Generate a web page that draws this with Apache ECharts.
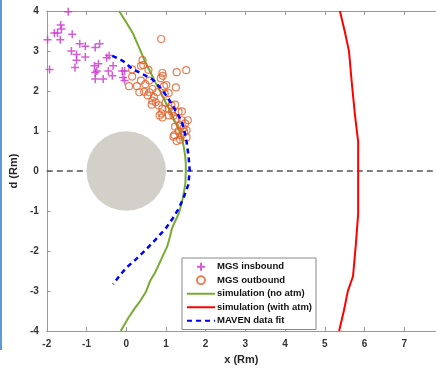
<!DOCTYPE html>
<html><head><meta charset="utf-8">
<script src="https://cdn.jsdelivr.net/npm/echarts@6/dist/echarts.min.js"></script>
<style>html,body{margin:0;padding:0;background:#fff}#c{width:436px;height:370px}</style>
</head><body><div id="c"></div>
<script>
const xTicks = [-2,-1,0,1,2,3,4,5,6,7];
const yTicks = [-4,-3,-2,-1,0,1,2,3,4];
const mgsInbound = [[-1.46,3.98],[-1.98,3.28],[-1.93,2.54],[-1.81,3.45],[-1.73,3.45],[-1.65,3.65],[-1.63,3.55],[-1.66,3.28],[-1.36,3.42],[-1.38,3.0],[-1.25,2.91],[-1.25,2.77],[-1.29,2.59],[-1.17,3.18],[-1.03,3.12],[-1.03,2.85],[-0.78,3.09],[-0.67,3.18],[-0.80,2.63],[-0.70,2.68],[-0.78,2.46],[-0.74,2.5],[-0.78,2.30],[-0.58,2.30],[-0.49,2.83],[-0.43,2.89],[-0.45,2.5],[-0.35,2.38],[-0.33,2.63],[-0.10,2.5],[-0.04,2.5],[-0.08,2.34],[-0.04,2.26]];
const mgsOutbound = [[0.88,3.30],[0.41,2.77],[0.43,2.65],[0.37,2.63],[0.56,2.53],[0.15,2.54],[0.15,2.36],[0.07,2.12],[0.27,2.12],[0.33,1.97],[0.37,2.26],[0.48,2.17],[0.58,2.26],[0.91,2.45],[0.92,2.38],[0.87,2.32],[1.27,2.47],[1.51,2.52],[1.25,2.09],[0.95,2.12],[1.01,2.15],[1.07,1.95],[0.66,2.05],[0.45,1.98],[0.58,1.97],[0.54,1.89],[0.70,1.85],[0.66,1.76],[0.74,1.72],[0.64,1.66],[0.82,1.64],[0.91,1.56],[0.89,1.44],[0.84,1.39],[0.91,1.34],[1.07,1.56],[1.15,1.48],[1.23,1.66],[1.14,1.64],[1.07,1.39],[1.19,1.38],[1.32,1.48],[1.40,1.49],[1.27,1.31],[1.40,1.27],[1.55,1.27],[1.48,1.19],[1.36,1.15],[1.23,1.11],[1.44,1.07],[1.32,1.0],[1.21,0.90],[1.40,0.90],[1.52,0.84],[1.27,0.75],[1.36,0.78],[1.19,0.86],[1.46,0.98],[1.52,1.02],[0.99,1.71],[0.78,1.97],[0.97,1.93]];
const simNoAtm = [[-0.18,4],[0.0,3.72],[0.17,3.44],[0.33,3.07],[0.49,2.7],[0.62,2.45],[0.74,2.21],[0.87,1.96],[0.99,1.72],[1.12,1.47],[1.23,1.23],[1.33,1.02],[1.4,0.82],[1.45,0.6],[1.48,0.41],[1.5,0.2],[1.5,0],[1.49,-0.3],[1.45,-0.55],[1.4,-0.79],[1.32,-1.07],[1.22,-1.28],[1.15,-1.44],[1.1,-1.65],[1.03,-1.89],[0.93,-2.1],[0.82,-2.34],[0.72,-2.55],[0.6,-2.75],[0.49,-3.03],[0.35,-3.25],[0.2,-3.45],[0.04,-3.69],[-0.05,-3.85],[-0.14,-4]];
const simWithAtm = [[5.38,4],[5.5,3.5],[5.61,2.99],[5.68,2.2],[5.76,1.4],[5.84,0.73],[5.84,0],[5.84,-1.07],[5.78,-1.85],[5.71,-2.63],[5.58,-3.0],[5.48,-3.49],[5.36,-4]];
const mavenFit = [[-0.35,2.88],[-0.08,2.75],[0.17,2.54],[0.42,2.42],[0.66,2.29],[0.88,2.06],[1.07,1.8],[1.25,1.5],[1.4,1.23],[1.47,0.98],[1.52,0.73],[1.57,0.36],[1.6,0],[1.56,-0.35],[1.45,-0.65],[1.32,-0.94],[1.16,-1.2],[0.99,-1.44],[0.75,-1.7],[0.49,-1.97],[0.25,-2.2],[0,-2.42],[-0.18,-2.63],[-0.33,-2.83]];
const seriesNames = ['MGS insbound','MGS outbound','simulation (no atm)','simulation (with atm)','MAVEN data fit'];
const xMin = -2, xMax = 7.8, yMin = -4, yMax = 4;
const marsCenter = [0,0], marsRadius = 1;

const font = '"Liberation Sans", Arial, sans-serif';
const chart = echarts.init(document.getElementById('c'));
const plusPath = 'path://M5,0L5,10M0,5L10,5';
chart.setOption({
  animation: false,
  grid: {left: 39, right: 0, top: 11, bottom: 34, containLabel: false},
  graphic: [{type:'rect', left:0, top:0, shape:{width:2, height:350}, style:{fill:'#5b9bd5'}}],
  legend: {
    data: seriesNames.map((n, i) => i < 2 ? {name: n} : {name: n, itemStyle: {opacity: 0}}),
    orient: 'vertical', left: 182, top: 258, itemGap: 2, itemWidth: 28, itemHeight: 8,
    padding: [3,4,3,4], backgroundColor: '#fff', borderColor: '#888', borderWidth: 1,
    textStyle: {fontFamily: font, fontSize: 9.5, fontWeight: 'bold', color: '#111', padding: [0,0,0,-3], lineHeight: 11.5}
  },
  xAxis: [{
    type: 'value', min: xMin, max: xMax, interval: 1, position: 'bottom',
    name: 'x (Rm)', nameLocation: 'middle', nameGap: 22,
    nameTextStyle: {fontFamily: font, fontSize: 11, fontWeight: 'bold', color: '#262626'},
    axisLine: {onZero: false, lineStyle: {color: '#999', width: 1}},
    axisTick: {inside: true, length: 4, lineStyle: {color: '#999'}},
    axisLabel: {fontFamily: font, fontSize: 10, fontWeight: 'bold', color: '#333', margin: 8, showMaxLabel: false},
    splitLine: {show: false}
  },{
    type: 'value', min: xMin, max: xMax, interval: 1, position: 'top',
    axisLine: {onZero: false, lineStyle: {color: '#999', width: 1}},
    axisTick: {inside: true, length: 4, lineStyle: {color: '#999'}},
    axisLabel: {show: false}, splitLine: {show: false}
  }],
  yAxis: [{
    type: 'value', min: yMin, max: yMax, interval: 1,
    name: 'd (Rm)', nameLocation: 'middle', nameGap: 21, nameRotate: 90,
    nameTextStyle: {fontFamily: font, fontSize: 11, fontWeight: 'bold', color: '#262626'},
    axisLine: {show: true, onZero: false, lineStyle: {color: '#999', width: 1}},
    axisTick: {inside: true, length: 4, lineStyle: {color: '#999'}},
    axisLabel: {fontFamily: font, fontSize: 10, fontWeight: 'bold', color: '#333', margin: 8},
    splitLine: {show: false}
  }],
  series: [
    {
      type: 'line', name: 'zero', data: [[xMin,0],[xMax,0]], symbol: 'none', silent: true, z: 1,
      lineStyle: {color: '#555', width: 1.5, type: [6,4]}
    },
    {
      type: 'custom', name: 'mars', silent: true, z: 2, data: [marsCenter],
      renderItem: function(params, api){
        const c = api.coord([api.value(0), api.value(1)]);
        const r = api.size([marsRadius, marsRadius])[0];
        return {type:'circle', shape:{cx:c[0], cy:c[1], r:r}, style:{fill:'#d3cfc9'}};
      }
    },
    {
      type: 'line', name: seriesNames[2], data: simNoAtm, symbol: 'none', z: 3,
      lineStyle: {color: '#77ac30', width: 2}, itemStyle: {color: '#77ac30'}
    },
    {
      type: 'line', name: seriesNames[3], data: simWithAtm, symbol: 'none', z: 3,
      lineStyle: {color: '#ff0000', width: 2}, itemStyle: {color: '#ff0000'}
    },
    {
      type: 'scatter', name: seriesNames[0], data: mgsInbound, symbol: plusPath, symbolSize: 8, z: 4,
      itemStyle: {color: 'rgba(0,0,0,0)', borderColor: '#cc33cc', borderWidth: 1.5}
    },
    {
      type: 'scatter', name: seriesNames[1], data: mgsOutbound, symbol: 'circle', symbolSize: 7, z: 4,
      itemStyle: {color: 'rgba(0,0,0,0)', borderColor: '#e0602a', borderWidth: 1.2}
    },
    {
      type: 'line', name: seriesNames[4], data: mavenFit, symbol: 'none', z: 5,
      lineStyle: {color: '#0000ff', width: 2.5, type: [5,4]}, itemStyle: {color: '#0000ff'}
    }
  ]
});
</script></body></html>
